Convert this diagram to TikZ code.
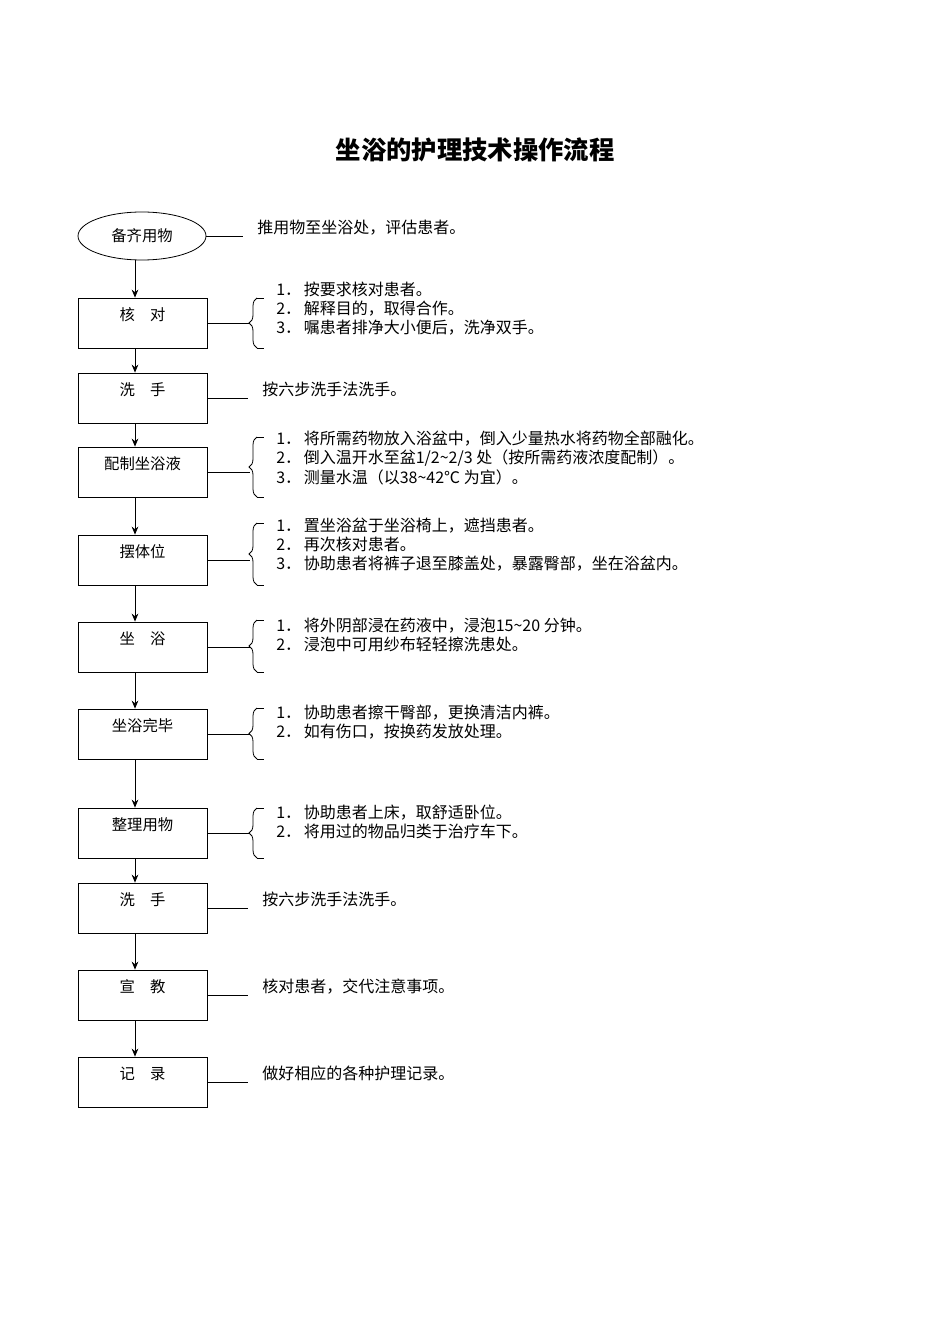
\documentclass[tikz,border=0pt]{standalone}
\usepackage{fontspec}
\setmainfont{Liberation Serif}
\newfontfamily\cjk{Noto Sans CJK SC}
\usetikzlibrary{shapes.geometric,decorations.pathreplacing,arrows.meta}
\begin{document}
\begin{tikzpicture}[x=0.75pt,y=-0.75pt,
  stepbox/.style={draw,minimum width=129*0.75pt,minimum height=50*0.75pt,inner sep=0pt},
  lbl/.style={font=\cjk\fontsize{11.5}{13}\selectfont},
  txt/.style={anchor=north west,inner sep=0pt,align=left,font=\cjk\fontsize{12}{14.3}\selectfont},
  arr/.style={-{Stealth[length=6pt,width=5pt]},line width=0.6pt},
  ln/.style={line width=0.6pt},
  br/.style={decorate,decoration={brace,amplitude=6pt},line width=0.6pt}]
\useasboundingbox (0,0) rectangle (950,1344);
\node[font=\cjk\bfseries\fontsize{19}{22}\selectfont] (title) at (475,150) {坐浴的护理技术操作流程};
\node[draw,ellipse,minimum width=128*0.75pt,minimum height=48*0.75pt,lbl,line width=0.6pt] (n0) at (142,236) {备齐用物};
\foreach \n/\y/\t in {n1/323/核\quad 对,n2/398/洗\quad 手,n3/472/配制坐浴液,n4/560/摆体位,n5/647/坐\quad 浴,n6/734/坐浴完毕,n7/833/整理用物,n8/908/洗\quad 手,n9/995/宣\quad 教,n10/1082/记\quad 录}{
  \node[stepbox,line width=0.6pt] (\n) at (142.5,\y) {};
  \node[lbl] at (142.5,\y-8) {\t};
}
\foreach \a/\b in {n0/n1,n1/n2,n2/n3,n3/n4,n4/n5,n5/n6,n6/n7,n7/n8,n8/n9,n9/n10}
  \draw[arr] (\a.south -| 135,0) -- (\b.north -| 135,0);
\coordinate (e0) at (243,236);
\draw[ln] (n0.east) -- (e0);
\node[txt] at (257,220) {推用物至坐浴处，评估患者。};
\foreach \n/\y/\t in {n2/398/按六步洗手法洗手。,n8/908/按六步洗手法洗手。,n9/995/核对患者，交代注意事项。,n10/1082/做好相应的各种护理记录。}{
  \coordinate (e\n) at (248,\y);
  \draw[ln] (\n.east) -- (e\n);
  \node[txt] at (262,\y-16) {\t};
}
\foreach \n/\y/\top/\bot in {n1/323/298/348,n3/472/437/497,n4/560/523/585,n5/647/620/672,n6/734/708/759,n7/833/808/858}{
  \draw[br] (257,\bot) -- (257,\top);
  \draw[ln] (257,\top) -- (264,\top);
  \draw[ln] (257,\bot) -- (264,\bot);
  \coordinate (b\n) at (250,\y);
  \draw[ln] (\n.east) -- (b\n);
}
\node[txt] at (276,282) {1．\,按要求核对患者。\\2．\,解释目的，取得合作。\\3．\,嘱患者排净大小便后，洗净双手。};
\node[txt] at (276,431) {1．\,将所需药物放入浴盆中，倒入少量热水将药物全部融化。\\2．\,倒入温开水至盆1/2\textasciitilde2/3 处（按所需药液浓度配制）。\\3．\,测量水温（以38\textasciitilde42℃ 为宜）。};
\node[txt] at (276,518) {1．\,置坐浴盆于坐浴椅上，遮挡患者。\\2．\,再次核对患者。\\3．\,协助患者将裤子退至膝盖处，暴露臀部，坐在浴盆内。};
\node[txt] at (276,618) {1．\,将外阴部浸在药液中，浸泡15\textasciitilde20 分钟。\\2．\,浸泡中可用纱布轻轻擦洗患处。};
\node[txt] at (276,705) {1．\,协助患者擦干臀部，更换清洁内裤。\\2．\,如有伤口，按换药发放处理。};
\node[txt] at (276,805) {1．\,协助患者上床，取舒适卧位。\\2．\,将用过的物品归类于治疗车下。};
\end{tikzpicture}
\end{document}
